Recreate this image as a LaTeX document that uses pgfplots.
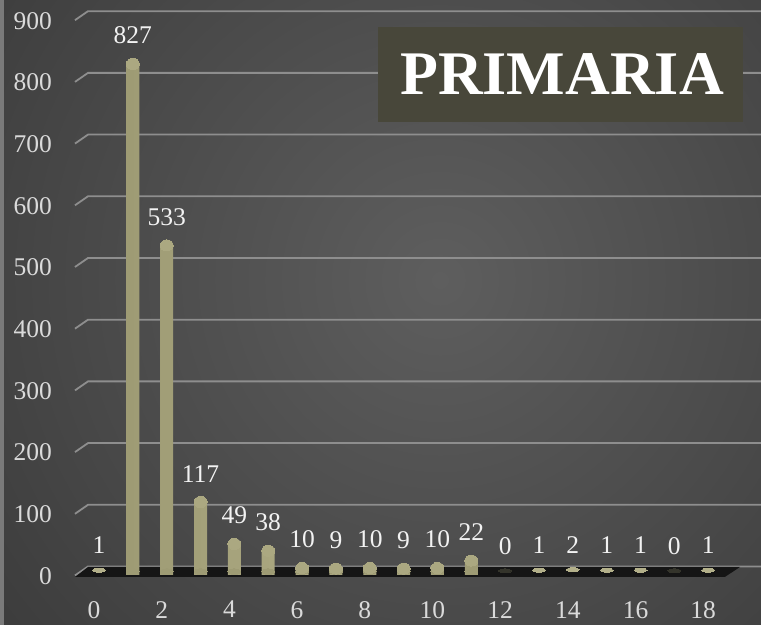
\documentclass[border=0pt]{standalone}
\usepackage{pgfplots}
\pgfplotsset{compat=1.18}
\usepackage{pgfplotstable}
\usepackage{fontspec}
\setmainfont{Liberation Serif}
\definecolor{barmid}{HTML}{ABA881}
\definecolor{baredge}{HTML}{9E9B74}
\definecolor{gridc}{HTML}{8E8E8E}
\definecolor{tickc}{HTML}{DADADA}
\definecolor{boxc}{HTML}{48473A}
\definecolor{bgin}{HTML}{5E5E5E}
\definecolor{bgout}{HTML}{282828}
\definecolor{floorc}{HTML}{151515}
\definecolor{zeroc}{HTML}{34342B}
\definecolor{discc}{HTML}{B3B08A}

% bars tall enough to show a rounded top
\pgfplotstableread{
x y b
1 827 0
2 533 0
3 117 0
4 49 0
5 38 0
6 10 0
7 9 0
8 10 0
9 9 0
10 10 0
11 22 0
}\bardata

% very small bars, seen as flat discs
\pgfplotstableread{
x y
0 1
13 1
14 2
15 1
16 1
18 1
}\smalldata

\pgfplotstableread{
x y
12 0
17 0
}\zerodata

\pgfplotstableread{
x y
0 1
1 827
2 533
3 117
4 49
5 38
6 10
7 9
8 10
9 9
10 10
11 22
12 0
13 1
14 2
15 1
16 1
17 0
18 1
}\labeldata

\begin{document}
\begin{tikzpicture}
\begin{axis}[
  at={(0,0)}, anchor=south west,
  width=761pt, height=625pt, scale only axis,
  xmin=-2.925, xmax=19.56, ymin=-89.95, ymax=923.0,
  axis line style={draw=none},
  axis on top=true,
  major tick length=0pt,
  xtick={0,2,...,18}, ytick={0,100,...,900},
  /pgf/number format/assume math mode=true,
  tick label style={font=\fontsize{25.5}{30}\selectfont, text=tickc, inner sep=0pt},
  yticklabel style={anchor=east, xshift=52pt, yshift=-6.5pt},
  xticklabel style={anchor=north, yshift=24pt, xshift=-5pt},
  clip=false,
]
% background
\begin{scope}
\clip (rel axis cs:0,0) rectangle (rel axis cs:1,1);
\shade[inner color=bgin, outer color=bgout] ([shift={(440pt,345pt)}]rel axis cs:0,0) circle (900pt);
\fill[color=black!30!gray!80] (rel axis cs:0,0) rectangle ([xshift=4pt]rel axis cs:0,1);
\end{scope}
% gridlines (back wall with a short receding stub)
\pgfplotsinvokeforeach{0,100,...,900}{
  \draw[gridc, line width=1.8pt] ([yshift=-6pt]axis cs:-0.709,#1) -- ([shift={(13pt,3pt)}]axis cs:-0.709,#1) -- ([yshift=3pt]axis cs:19.56,#1);
}
% floor
\fill[floorc] ([yshift=-7.5pt]axis cs:-0.709,0) -- ([shift={(13pt,2.5pt)}]axis cs:-0.709,0) -- ([yshift=2.5pt]axis cs:18.94,0) -- ([yshift=-7.5pt]axis cs:18.49,0) -- cycle;
% cylinders: base disc, body, rounded top
\addplot[only marks, color=baredge, mark=*, mark size=6.5pt,
  mark options={yscale=0.42, yshift=-5pt, fill=baredge, draw=baredge, line width=0pt}]
  table[x=x,y=b]{\bardata};
\addplot[ybar, bar width=13pt, draw=none, yshift=-5.5pt,
  left color=baredge, right color=baredge, middle color=barmid]
  table[x=x,y=y]{\bardata};
\addplot[only marks, color=barmid, mark=*, mark size=6.5pt,
  mark options={yscale=0.85, yshift=-5.5pt, fill=barmid, draw=barmid, line width=0pt}]
  table[x=x,y=y]{\bardata};
% flat discs for the smallest values
\addplot[only marks, color=discc, mark=*, mark size=6.5pt,
  mark options={yscale=0.3, yshift=-4.5pt, fill=discc, draw=discc, line width=0pt}]
  table[x=x,y=y]{\smalldata};
\addplot[only marks, color=zeroc, mark=*, mark size=6.5pt,
  mark options={yscale=0.3, yshift=-4.5pt, fill=zeroc, draw=zeroc, line width=0pt}]
  table[x=x,y=y]{\zerodata};
% value labels
\addplot[draw=none, mark=none, nodes near coords,
  nodes near coords style={anchor=south, inner sep=0pt, yshift=15pt,
    font=\fontsize{25.5}{30}\selectfont, text=white!95!black}]
  table[x=x,y=y]{\labeldata};
% title box
\fill[boxc] (rel axis cs:0.4967,0.8048) rectangle (rel axis cs:0.9763,0.9568);
\node[font=\fontsize{62}{70}\selectfont\bfseries, text=white]
  at (rel axis cs:0.7385,0.8816) {PRIMARIA};
\end{axis}
\pgfresetboundingbox
\useasboundingbox (current axis.south west) rectangle (current axis.north east);
\end{tikzpicture}
\end{document}
